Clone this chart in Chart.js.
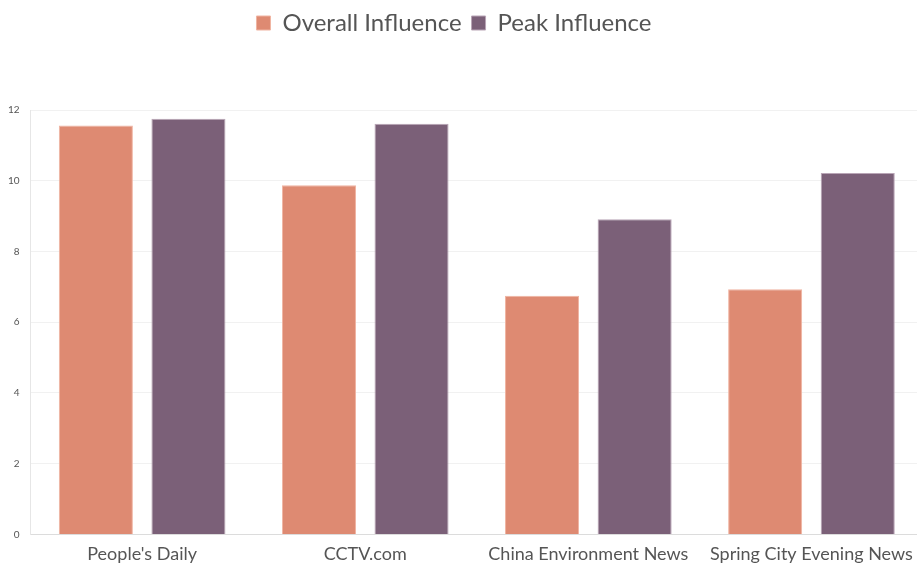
<!DOCTYPE html>
<html>
<head>
<meta charset="utf-8">
<script src="https://cdn.jsdelivr.net/npm/chart.js@4/dist/chart.umd.min.js"></script>
<style>
  html, body { margin: 0; padding: 0; background: #fff; overflow: hidden; }
  #wrap { position: absolute; left: -3px; top: 0; width: 928px; height: 566px; }
</style>
</head>
<body>
<div id="wrap"><canvas id="influenceChart"></canvas></div>
<script>
// ------------------------------
//  Data
// ------------------------------
const outlets = ["People's Daily", "CCTV.com", "China Environment News", "Spring City Evening News"];
const overallInfluence = [11.56, 9.87, 6.75, 6.93];
const peakInfluence = [11.75, 11.61, 8.91, 10.22];
const yTicks = [0, 2, 4, 6, 8, 10, 12];

const FONT = "Lato, 'Open Sans', sans-serif";

// push the plot area down below the legend, nudge legend a bit left
const legendGap = {
  id: "legendGap",
  beforeInit(chart) {
    const fit = chart.legend.fit;
    chart.legend.fit = function () {
      fit.bind(chart.legend)();
      this.height += 65;
    };
  },
  afterLayout(chart) {
    chart.legend.left -= 6;
    chart.legend.right -= 6;
  }
};

const ctx = document.getElementById("influenceChart").getContext("2d");

new Chart(ctx, {
  type: "bar",
  data: {
    labels: outlets,
    datasets: [{
      label: "Overall Influence",
      data: overallInfluence,
      backgroundColor: "#de8a72",
      borderColor: "#f0b4a2",
      borderWidth: 1,
      barPercentage: 0.8,
      categoryPercentage: 0.83
    }, {
      label: "Peak Influence",
      data: peakInfluence,
      backgroundColor: "#7b6078",
      borderColor: "#b9a5b6",
      borderWidth: 1,
      barPercentage: 0.8,
      categoryPercentage: 0.83
    }]
  },
  options: {
    responsive: true,
    maintainAspectRatio: false,
    animation: false,
    layout: { padding: { left: 0, right: 2, top: 1, bottom: 0 } },
    scales: {
      x: {
        grid: { display: false },
        border: { color: "#dcdcdc" },
        ticks: { color: "#555", font: { family: FONT, size: 18 }, maxRotation: 0, autoSkip: false, padding: 1 }
      },
      y: {
        min: 0,
        max: 12,
        afterBuildTicks(axis) { axis.ticks = yTicks.map(v => ({ value: v })); },
        grid: { color: "#f1f1f1", drawTicks: false },
        border: { color: "#e6e6e6" },
        ticks: { color: "#555", font: { family: FONT, size: 10 }, padding: 11 }
      }
    },
    plugins: {
      legend: {
        display: true,
        position: "top",
        labels: {
          color: "#555",
          font: { family: FONT, size: 24 },
          boxWidth: 14,
          boxHeight: 14,
          padding: 10
        }
      },
      tooltip: { enabled: false }
    }
  },
  plugins: [legendGap]
});
</script>
</body>
</html>
